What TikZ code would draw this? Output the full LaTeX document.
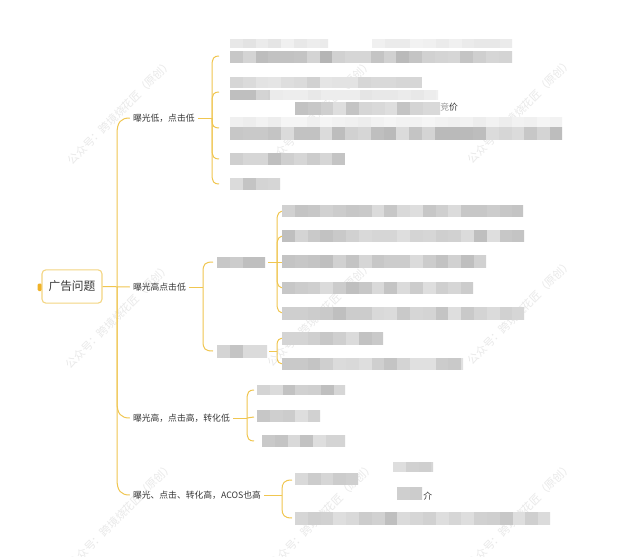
\documentclass[tikz,border=0pt]{standalone}
\usepackage{fontspec}
\setmainfont{Noto Sans CJK SC}
\definecolor{conn}{RGB}{240,198,80}
\definecolor{rootedge}{RGB}{243,213,130}
\definecolor{tabc}{RGB}{240,178,40}
\definecolor{txt}{RGB}{55,55,55}
\definecolor{wm}{RGB}{233,233,233}
\newcommand\blurbar[5]{%
  \begin{scope}
  \clip (#1,#2) rectangle (#3,#4);
  \pgfmathtruncatemacro\nseg{ceil((#3-#1)/12.8)}
  \foreach \k in {1,...,\nseg}{%
    \pgfmathsetmacro\xa{#1+(\k-1)*12.8}
    \pgfmathtruncatemacro\sh{#5*(0.5+0.5*rnd)}
    \fill[black!\sh] (\xa,#2) rectangle ({\xa+12.9},#4);
  }
  \end{scope}}
\begin{document}
\begin{tikzpicture}[x=0.75pt,y=-0.75pt,
  connector/.style={draw=conn,line width=0.75pt},
  rootbox/.style={draw=rootedge,fill=white,rounded corners=3pt,line width=0.8pt,
    minimum width=45pt,minimum height=25pt,inner sep=0pt,
    font=\fontsize{8.8pt}{10pt}\selectfont,text=txt},
  branch/.style={anchor=west,inner xsep=2.25pt,inner ysep=1pt,
    font=\fontsize{6.6pt}{8pt}\selectfont,text=txt},
  small/.style={inner sep=0pt,font=\fontsize{6.6pt}{8pt}\selectfont,text=txt},
  watermark/.style={rotate=45,text=wm,font=\fontsize{8.2pt}{9pt}\selectfont},
]
\pgfmathsetseed{11}
\fill[white] (0,0) rectangle (640,557);
\useasboundingbox (0,0) rectangle (640,557);

% watermarks
\foreach \wx/\wy [count=\i] in {120/112,320/112,520/111,118/316,320/314,520/312,121/515,322/515,520/515}{
  \node[watermark] (wm\i) at (\wx,\wy) {公众号：跨境烧花匠（原创）};
}

% root
\fill[tabc,rounded corners=1pt] (37.5,283.5) rectangle (42,291);
\node[rootbox] (root) at (72,286.5) {广告问题};

% branches
\node[branch] (b1) at (129.75,118) {曝光低，点击低};
\node[branch] (b2) at (129.75,287) {曝光高点击低};
\node[branch] (b3) at (129.75,418) {曝光高，点击高，转化低};
\node[branch] (b4) at (129.75,495) {曝光、点击、转化高，ACOS也高};

\coordinate (hub) at (117,287);
\draw[connector] (root.east) -- (b2.west);
\draw[connector] (hub) -- (117,134) .. controls (117,122) and (121,118) .. (b1.west);
\draw[connector] (hub) -- (117,402) .. controls (117,414) and (121,418) .. (b3.west);
\draw[connector] (hub) -- (117,479) .. controls (117,491) and (121,495) .. (b4.west);

% ---------- group 1
\coordinate (g1) at (212,118);
\draw[connector] (b1.east) -- (g1);
\foreach \yc/\nm in {56/c11,92/c12,128/c13,159/c14,184/c15}{\coordinate (\nm) at (219,\yc);}
\draw[connector] (g1) -- (212,66) .. controls (212,58) and (214,56) .. (c11);
\draw[connector] (g1) -- (212,102) .. controls (212,94) and (214,92) .. (c12);
\draw[connector] (g1) -- (212,120) .. controls (212,126) and (214,128) .. (c13);
\draw[connector] (g1) -- (212,149) .. controls (212,157) and (214,159) .. (c14);
\draw[connector] (g1) -- (212,174) .. controls (212,182) and (214,184) .. (c15);

\blurbar{230}{39}{328}{48}{12}
\blurbar{372}{39}{512}{48}{10}
\blurbar{230}{51}{512}{63}{30}
\blurbar{230}{77}{422}{88}{20}
\blurbar{230}{90}{270}{100}{28}
\blurbar{270}{90}{438}{100}{12}
\blurbar{295}{102}{440}{115}{26}
\node[small,anchor=west] (jj) at (440,107) {{\color{black!40}竞}价};
\blurbar{230}{117}{562}{127}{8}
\blurbar{230}{127}{562}{140}{28}
\blurbar{230}{153}{345}{165}{28}
\blurbar{230}{178}{280}{190}{26}

% ---------- group 2
\coordinate (g2) at (203,287);
\draw[connector] (b2.east) -- (g2);
\coordinate (s1w) at (213,262);
\coordinate (s1e) at (268,262);
\coordinate (s2w) at (213,351);
\coordinate (s2e) at (269,351);
\draw[connector] (g2) -- (203,272) .. controls (203,264) and (205,262) .. (s1w);
\draw[connector] (g2) -- (203,341) .. controls (203,349) and (205,351) .. (s2w);
\blurbar{217}{257}{265}{268}{28}
\blurbar{217}{345}{267}{358}{28}

\coordinate (t1) at (277,262);
\draw[connector] (s1e) -- (t1);
\foreach \yc/\nm in {211/d1,236/d2,262/d3,288/d4,313/d5}{\coordinate (\nm) at (285,\yc);}
\draw[connector] (t1) -- (277,221) .. controls (277,213) and (279,211) .. (d1);
\draw[connector] (t1) -- (277,246) .. controls (277,238) and (279,236) .. (d2);
\draw[connector] (t1) -- (d3);
\draw[connector] (t1) -- (277,278) .. controls (277,286) and (279,288) .. (d4);
\draw[connector] (t1) -- (277,303) .. controls (277,311) and (279,313) .. (d5);

\coordinate (t2) at (277,351);
\draw[connector] (s2e) -- (t2);
\coordinate (d6) at (285,338);
\coordinate (d7) at (285,364);
\draw[connector] (t2) -- (277,345) .. controls (277,340) and (279,338) .. (d6);
\draw[connector] (t2) -- (277,357) .. controls (277,362) and (279,364) .. (d7);

\blurbar{282}{205}{523}{217}{26}
\blurbar{282}{230}{524}{242}{26}
\blurbar{282}{255}{486}{268}{26}
\blurbar{282}{282}{473}{294}{26}
\blurbar{282}{307}{524}{320}{26}
\blurbar{282}{332}{383}{345}{26}
\blurbar{282}{358}{463}{370}{24}

% ---------- group 3
\coordinate (g3) at (247,418);
\draw[connector] (b3.east) -- (g3);
\coordinate (e1) at (254,390);
\coordinate (e2) at (254,417);
\coordinate (e3) at (254,441);
\draw[connector] (g3) -- (247,400) .. controls (247,392) and (249,390) .. (e1);
\draw[connector] (g3) -- (e2);
\draw[connector] (g3) -- (247,431) .. controls (247,439) and (249,441) .. (e3);
\blurbar{257}{385}{345}{395}{26}
\blurbar{257}{410}{320}{422}{26}
\blurbar{262}{435}{345}{447}{26}

% ---------- group 4
\coordinate (g4) at (282,495);
\draw[connector] (b4.east) -- (g4);
\coordinate (f1) at (292,480);
\coordinate (f2) at (292,518);
\draw[connector] (g4) -- (282,490) .. controls (282,483) and (284,480) .. (f1);
\draw[connector] (g4) -- (282,508) .. controls (282,515) and (284,518) .. (f2);
\blurbar{295}{473}{358}{485}{24}
\blurbar{393}{462}{433}{472}{22}
\blurbar{397}{487}{422}{500}{26}
\node[small,anchor=west] (jie) at (423,496) {介};
\blurbar{295}{512}{550}{525}{26}
\end{tikzpicture}
\end{document}
